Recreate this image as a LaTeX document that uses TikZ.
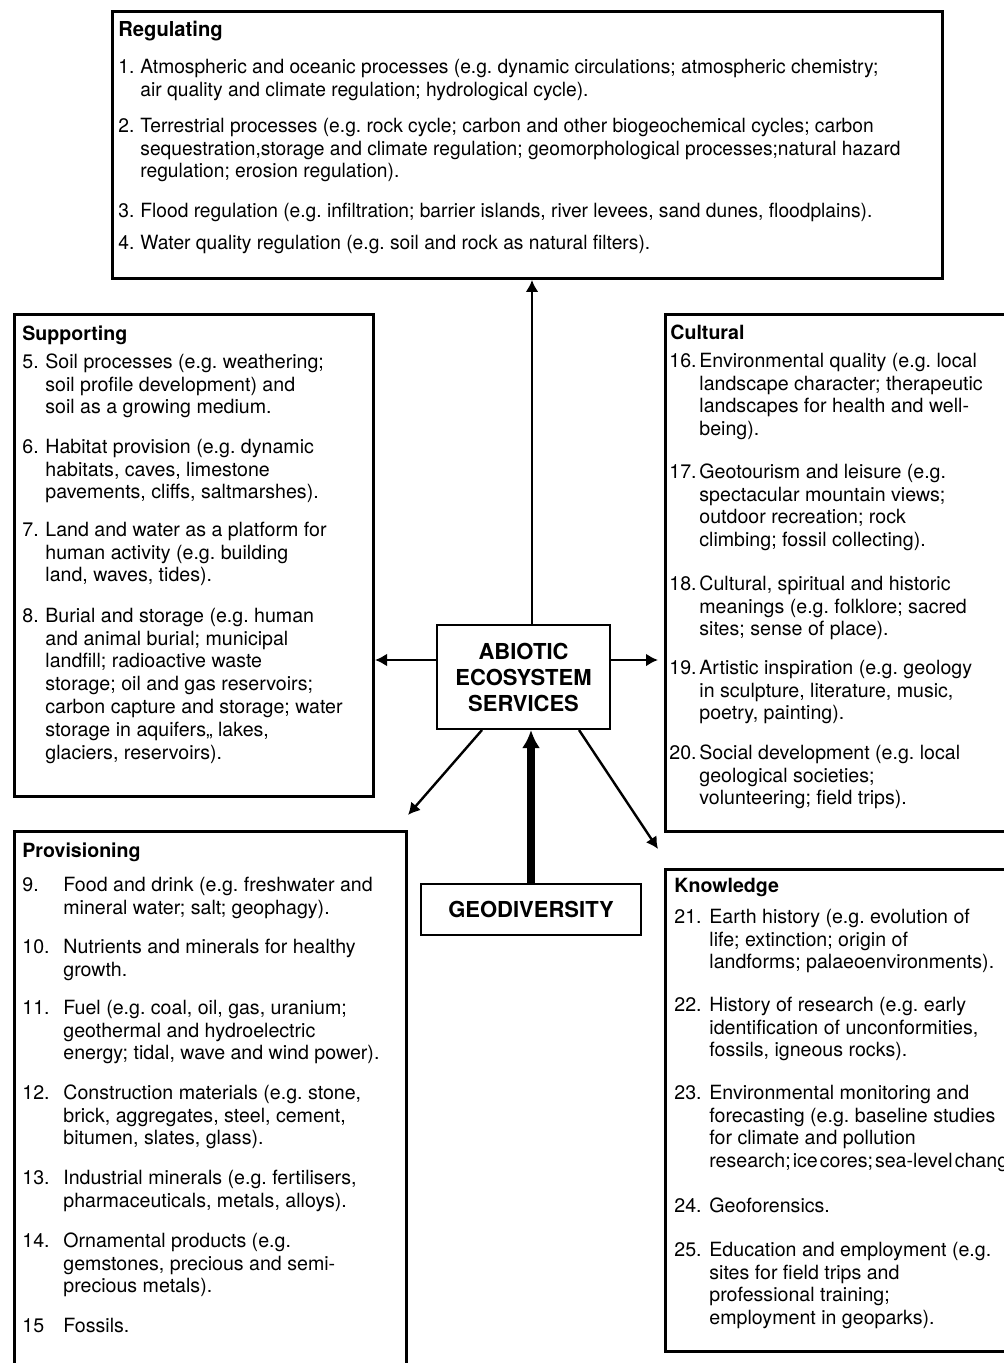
\documentclass[tikz,border=0pt]{standalone}
\usepackage{fontspec}
\setmainfont{TeX Gyre Heros}
\newfontfamily\narrowfont[FakeStretch=0.98]{TeX Gyre Heros}
\usetikzlibrary{arrows.meta}
\frenchspacing

\def\bodysize{\fontsize{9.8}{11.4}\selectfont}
% number, then the lines hanging after it
\newcommand\svitem[3]{\makebox[#1][l]{\strut#2}\begin{tabular}[t]{@{}l@{}}#3\end{tabular}}

\begin{document}
\begin{tikzpicture}[x=0.5pt,y=-0.5pt]
    \tikzstyle{svbox}=[draw,line width=1.5pt,inner sep=0pt,anchor=north west]
    \tikzstyle{hub}=[draw,line width=1pt,inner sep=0pt,align=center,
        font=\fontsize{11}{13}\selectfont\bfseries]
    \tikzstyle{head}=[anchor=north west,inner sep=0pt,font=\bodysize\bfseries]
    \tikzstyle{item}=[anchor=north west,inner sep=0pt,font=\bodysize]
    \tikzstyle{link}=[-{Latex[length=6pt,width=6.5pt]},line width=1.2pt]

    \clip (0,0) rectangle (1004,1363);
    \fill[white] (0,0) rectangle (1004,1363);

    % Draw the service boxes
    \node[svbox,minimum width=415pt,minimum height=133.5pt] (regbox) at (111,10) {};
    \node[svbox,minimum width=179.5pt,minimum height=241pt] (supbox) at (13,313) {};
    \node[svbox,minimum width=180pt,minimum height=258.5pt] (culbox) at (664,313) {};
    \node[svbox,minimum width=196pt,minimum height=280pt] (probox) at (13,830) {};
    \node[svbox,minimum width=180pt,minimum height=241pt] (knobox) at (664,868) {};

    % Draw the two central boxes
    \node[hub,minimum width=86.5pt,minimum height=52pt] (abiotic) at (523.5,677)
        {ABIOTIC\\ECOSYSTEM\\SERVICES};
    \node[hub,minimum width=110pt,minimum height=25.5pt] (geo) at (531,909.5) {GEODIVERSITY};

    % Box titles
    \node[head,font=\fontsize{10.3}{12}\selectfont\narrowfont\bfseries] (reg-t) at (118,21) {Regulating};
    \node[head] (sup-t) at (22,325) {Supporting};
    \node[head] (cul-t) at (670,325) {Cultural};
    \node[head] (pro-t) at (22,842) {Provisioning};
    \node[head] (kno-t) at (674,878) {Knowledge};

    % Regulating items
    \foreach \n/\y/\txt in {
        1/57/{Atmospheric and oceanic processes (e.g. dynamic circulations; atmospheric chemistry;\\
              air quality and climate regulation; hydrological cycle).},
        2/116/{Terrestrial processes (e.g. rock cycle; carbon and other biogeochemical cycles; carbon\\
              sequestration,storage and climate regulation; geomorphological processes;natural hazard\\
              regulation; erosion regulation).},
        3/201/{Flood regulation (e.g. infiltration; barrier islands, river levees, sand dunes, floodplains).},
        4/233/{Water quality regulation (e.g. soil and rock as natural filters).}}
        \node[item,font=\bodysize\narrowfont] (reg-\n) at (118,\y) {\svitem{11pt}{\n.}{\txt}};

    % Supporting items
    \foreach \n/\y/\txt in {
        5/352/{Soil processes (e.g. weathering;\\ soil profile development) and\\ soil as a growing medium.},
        6/437/{Habitat provision (e.g. dynamic\\ habitats, caves, limestone\\ pavements, cliffs, saltmarshes).},
        7/520/{Land and water as a platform for\\ human activity (e.g. building\\ land, waves, tides).},
        8/606/{Burial and storage (e.g. human\\ and animal burial; municipal\\ landfill; radioactive waste\\
              storage; oil and gas reservoirs;\\ carbon capture and storage; water\\
              storage in aquifers,, lakes,\\ glaciers, reservoirs).}}
        \node[item] (sup-\n) at (22,\y) {\svitem{11.5pt}{\n.}{\txt}};

    % Cultural items
    \foreach \n/\y/\txt in {
        16/351/{Environmental quality (e.g. local\\ landscape character; therapeutic\\
               landscapes for health and well-\\ being).},
        17/462/{Geotourism and leisure (e.g.\\ spectacular mountain views;\\ outdoor recreation; rock\\
               climbing; fossil collecting).},
        18/574/{Cultural, spiritual and historic\\ meanings (e.g. folklore; sacred\\ sites; sense of place).},
        19/658/{Artistic inspiration (e.g. geology\\ in sculpture, literature, music,\\ poetry, painting).},
        20/743/{Social development (e.g. local\\ geological societies;\\ volunteering; field trips).}}
        \node[item] (cul-\n) at (669,\y) {\svitem{15pt}{\n.}{\txt}};

    % Provisioning items
    \foreach \n/\lbl/\y/\txt in {
        9/9./875/{Food and drink (e.g. freshwater and\\ mineral water; salt; geophagy).},
        10/10./937/{Nutrients and minerals for healthy\\ growth.},
        11/11./998/{Fuel (e.g. coal, oil, gas, uranium;\\ geothermal and hydroelectric\\
                   energy; tidal, wave and wind power).},
        12/12./1083/{Construction materials (e.g. stone,\\ brick, aggregates, steel, cement,\\
                    bitumen, slates, glass).},
        13/13./1168/{Industrial minerals (e.g. fertilisers,\\ pharmaceuticals, metals, alloys).},
        14/14./1231/{Ornamental products (e.g.\\ gemstones, precious and semi-\\ precious metals).},
        15/15/1316/{Fossils.}}
        \node[item] (pro-\n) at (22,\y) {\svitem{20.5pt}{\lbl}{\txt}};

    % Knowledge items
    \foreach \n/\y/\txt in {
        21/907/{Earth history (e.g. evolution of\\ life; extinction; origin of\\ landforms; palaeoenvironments).},
        22/995/{History of research (e.g. early\\ identification of unconformities,\\ fossils, igneous rocks).},
        23/1083/{Environmental monitoring and\\ forecasting (e.g. baseline studies\\ for climate and pollution\\
                {\spaceskip=1pt research; ice cores; sea-level change).}},
        24/1196/{Geoforensics.},
        25/1240/{Education and employment (e.g.\\ sites for field trips and\\ professional training;\\
                employment in geoparks).}}
        \node[item] (kno-\n) at (674,\y) {\svitem{17.5pt}{\n.}{\txt}};

    % Connect the hub with every service box
    \draw[link] ([xshift=4.25pt]abiotic.north) -- ([xshift=4.25pt]abiotic.north |- regbox.south);
    \draw[link] ([yshift=8.5pt]abiotic.west) -- ([yshift=8.5pt]abiotic.west -| supbox.east);
    \draw[link,shorten >=3pt] ([yshift=8.5pt]abiotic.east) -- ([yshift=8.5pt]abiotic.east -| culbox.west);
    \draw[link] ([xshift=23pt]abiotic.south west) -- ([yshift=7.5pt]probox.north east);
    \draw[link] ([xshift=-16pt]abiotic.south east) -- ([xshift=-3pt,yshift=9.5pt]knobox.north west);

    % Geodiversity feeds the hub
    \draw[line width=4pt,-{Latex[length=9pt,width=9pt]}] (geo.north) -- (geo.north |- abiotic.south);
\end{tikzpicture}
\end{document}
